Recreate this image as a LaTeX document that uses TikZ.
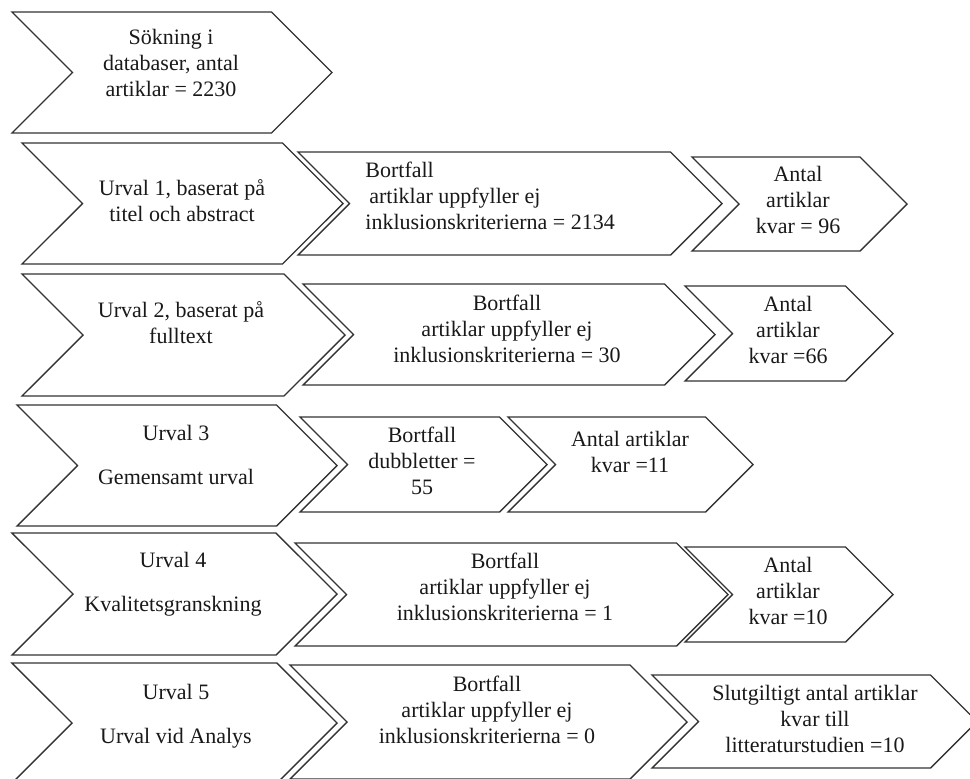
\documentclass[tikz,border=0pt]{standalone}
\usepackage{fontspec}
\setmainfont{Liberation Serif}
\usetikzlibrary{shapes.symbols}

\begin{document}
\begin{tikzpicture}[
    x=0.5pt, y=-0.5pt,
    chevron/.style={signal, draw=black!80, line width=0.7pt, fill=white, signal from=west, signal to=east, signal pointer angle=90, inner sep=0pt, outer sep=0pt},
    txt/.style={align=center, font=\fontsize{11}{13}\selectfont, text=black!90, inner sep=0pt}
]
\useasboundingbox (0,0) rectangle (970,778);

% sokning
\node[chevron, minimum width=160pt, minimum height=60.5pt] (soek) at (172,72.5) {};
\node[txt] (soektext) at (171,63) {Sökning i\\databaser, antal\\artiklar = 2230};

% urval 1
\node[chevron, minimum width=160.5pt, minimum height=60.5pt] (urval1) at (182.5,203.5) {};
\node[chevron, minimum width=212pt, minimum height=51.5pt] (bortfall1) at (510,203.5) {};
\node[chevron, minimum width=107.5pt, minimum height=47pt] (antal1) at (799.5,204) {};
\node[txt] (urval1text) at (182,201) {Urval 1, baserat på\\titel och abstract};
\node[txt, align=left, anchor=west] (bortfall1text) at (365,196) {Bortfall\\\hspace{2pt}artiklar uppfyller ej\\inklusionskriterierna = 2134};
\node[txt] (antal1text) at (798,200) {Antal\\artiklar\\kvar = 96};

% urval 2
\node[chevron, minimum width=161.5pt, minimum height=61pt] (urval2) at (183.5,335) {};
\node[chevron, minimum width=206pt, minimum height=50.5pt] (bortfall2) at (509,334.5) {};
\node[chevron, minimum width=104pt, minimum height=47.5pt] (antal2) at (789,333.5) {};
\node[txt] (urval2text) at (181,323) {Urval 2, baserat på\\fulltext};
\node[txt] (bortfall2text) at (507,329) {Bortfall\\artiklar uppfyller ej\\inklusionskriterierna = 30};
\node[txt] (antal2text) at (788,330) {Antal\\artiklar\\kvar =66};

% urval 3
\node[chevron, minimum width=160pt, minimum height=60.5pt] (urval3) at (177,465.5) {};
\node[chevron, minimum width=123.5pt, minimum height=47.5pt] (bortfall3) at (423.5,464.5) {};
\node[chevron, minimum width=122.5pt, minimum height=47.5pt] (antal3) at (630.5,464.5) {};
\node[txt] (urval3text) at (176,455) {Urval 3\\[9pt]Gemensamt urval};
\node[txt] (bortfall3text) at (422,461) {Bortfall\\dubbletter =\\55};
\node[txt] (antal3text) at (630,452) {Antal artiklar\\kvar =11};

% urval 4
\node[chevron, minimum width=162.5pt, minimum height=61pt] (urval4) at (174.5,594) {};
\node[chevron, minimum width=216.5pt, minimum height=51.5pt] (bortfall4) at (511.5,594.5) {};
\node[chevron, minimum width=104pt, minimum height=47.5pt] (antal4) at (789,594.5) {};
\node[txt] (urval4text) at (173,584) {Urval 4\\[9pt]Kvalitetsgranskning};
\node[txt] (bortfall4text) at (505,587) {Bortfall\\artiklar uppfyller ej\\inklusionskriterierna = 1};
\node[txt] (antal4text) at (788,591) {Antal\\artiklar\\kvar =10};

% urval 5
\node[chevron, minimum width=162.5pt, minimum height=60pt] (urval5) at (174.5,723) {};
\node[chevron, minimum width=198.5pt, minimum height=57pt] (bortfall5) at (488.5,722) {};
\node[chevron, minimum width=162.5pt, minimum height=46.5pt] (slut) at (814.5,721.5) {};
\node[txt] (urval5text) at (176,716) {Urval 5\\[9pt]Urval vid Analys};
\node[txt] (bortfall5text) at (487,710) {Bortfall\\artiklar uppfyller ej\\inklusionskriterierna = 0};
\node[txt] (sluttext) at (815,719) {Slutgiltigt antal artiklar\\kvar till\\litteraturstudien =10};

\end{tikzpicture}
\end{document}
